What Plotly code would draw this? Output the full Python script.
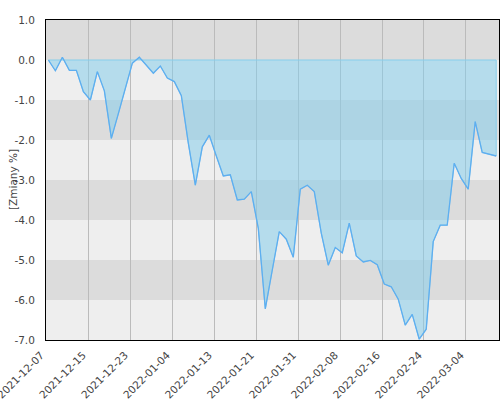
import plotly.graph_objects as go

# daily changes [%] (one point per session)
values = [
    0.0, -0.27, 0.07, -0.26, -0.26, -0.79, -1.0, -0.29, -0.77, -1.96,
    -1.34, -0.72, -0.08, 0.07, -0.12, -0.33, -0.15, -0.45, -0.54, -0.89,
    -2.08, -3.13, -2.17, -1.88, -2.4, -2.9, -2.87, -3.5, -3.48, -3.29,
    -4.21, -6.22, -5.25, -4.29, -4.48, -4.93, -3.23, -3.13, -3.29, -4.33,
    -5.13, -4.69, -4.82, -4.08, -4.9, -5.05, -5.01, -5.12, -5.6, -5.67,
    -5.98, -6.63, -6.36, -6.98, -6.73, -4.54, -4.13, -4.13, -2.58, -2.96,
    -3.23, -1.54, -2.31, -2.35, -2.4,
]

tick_labels = [
    "2021-12-07", "2021-12-15", "2021-12-23", "2022-01-04", "2022-01-13",
    "2022-01-21", "2022-01-31", "2022-02-08", "2022-02-16", "2022-02-24",
    "2022-03-04",
]
tick_step = 6  # one label every 6 sessions

y_ticks = [1, 0, -1, -2, -3, -4, -5, -6, -7]
y_tick_labels = ["1.0", "0.0", "-1.0", "-2.0", "-3.0", "-4.0", "-5.0", "-6.0", "-7.0"]

x = list(range(len(values)))
tick_pos = [i * tick_step - 0.32 for i in range(len(tick_labels))]

fig = go.Figure()

# shaded area between zero and the series
fig.add_trace(go.Scatter(
    x=x + [x[-1], x[0]],
    y=values + [0, 0],
    fill="toself",
    fillcolor="rgba(135,206,235,0.55)",
    line=dict(color="#87ceeb", width=1),
    mode="lines",
    hoverinfo="skip",
))
fig.add_trace(go.Scatter(
    x=x, y=values, mode="lines",
    line=dict(color="#5eaef0", width=1.3),
))

# alternating horizontal bands
shapes = []
for lo in range(-7, 1):
    shapes.append(dict(
        type="rect", xref="paper", yref="y", x0=0, x1=1, y0=lo, y1=lo + 1,
        fillcolor="#dcdcdc" if lo % 2 == 0 else "#eeeeee",
        line=dict(width=0), layer="below",
    ))

fig.update_layout(
    width=500, height=400,
    margin=dict(l=46, r=1, t=20, b=60),
    paper_bgcolor="white", plot_bgcolor="#eeeeee",
    showlegend=False,
    shapes=shapes,
    font=dict(family="DejaVu Sans", size=10.5, color="#444444"),
    annotations=[dict(
        text="[Zmiany %]", textangle=-90, xref="paper", yref="paper",
        x=-33 / 453, y=0.5, showarrow=False, xanchor="center", yanchor="middle",
        font=dict(size=10.5, color="#444444"),
    )],
)

fig.update_xaxes(
    range=[-0.34, 64.4], automargin=False,
    tickmode="array", tickvals=tick_pos, ticktext=tick_labels,
    tickangle=-45, ticklabeloverflow="allow",
    ticklabelshift=-5, ticklabelstandoff=4,
    showgrid=True, gridcolor="#bbbbbb", gridwidth=1,
    zeroline=False,
    showline=True, linecolor="black", linewidth=1, mirror=True,
)
fig.update_yaxes(
    range=[-7, 1], automargin=False,
    tickmode="array", tickvals=y_ticks, ticktext=y_tick_labels,
    showgrid=False, zeroline=False,
    showline=True, linecolor="black", linewidth=1, mirror=True,
    ticklabelstandoff=8,
)

fig.write_html(
    "out.html",
    config={"displayModeBar": False},
    post_script="document.body.style.margin='0';document.body.style.overflow='hidden';",
)
